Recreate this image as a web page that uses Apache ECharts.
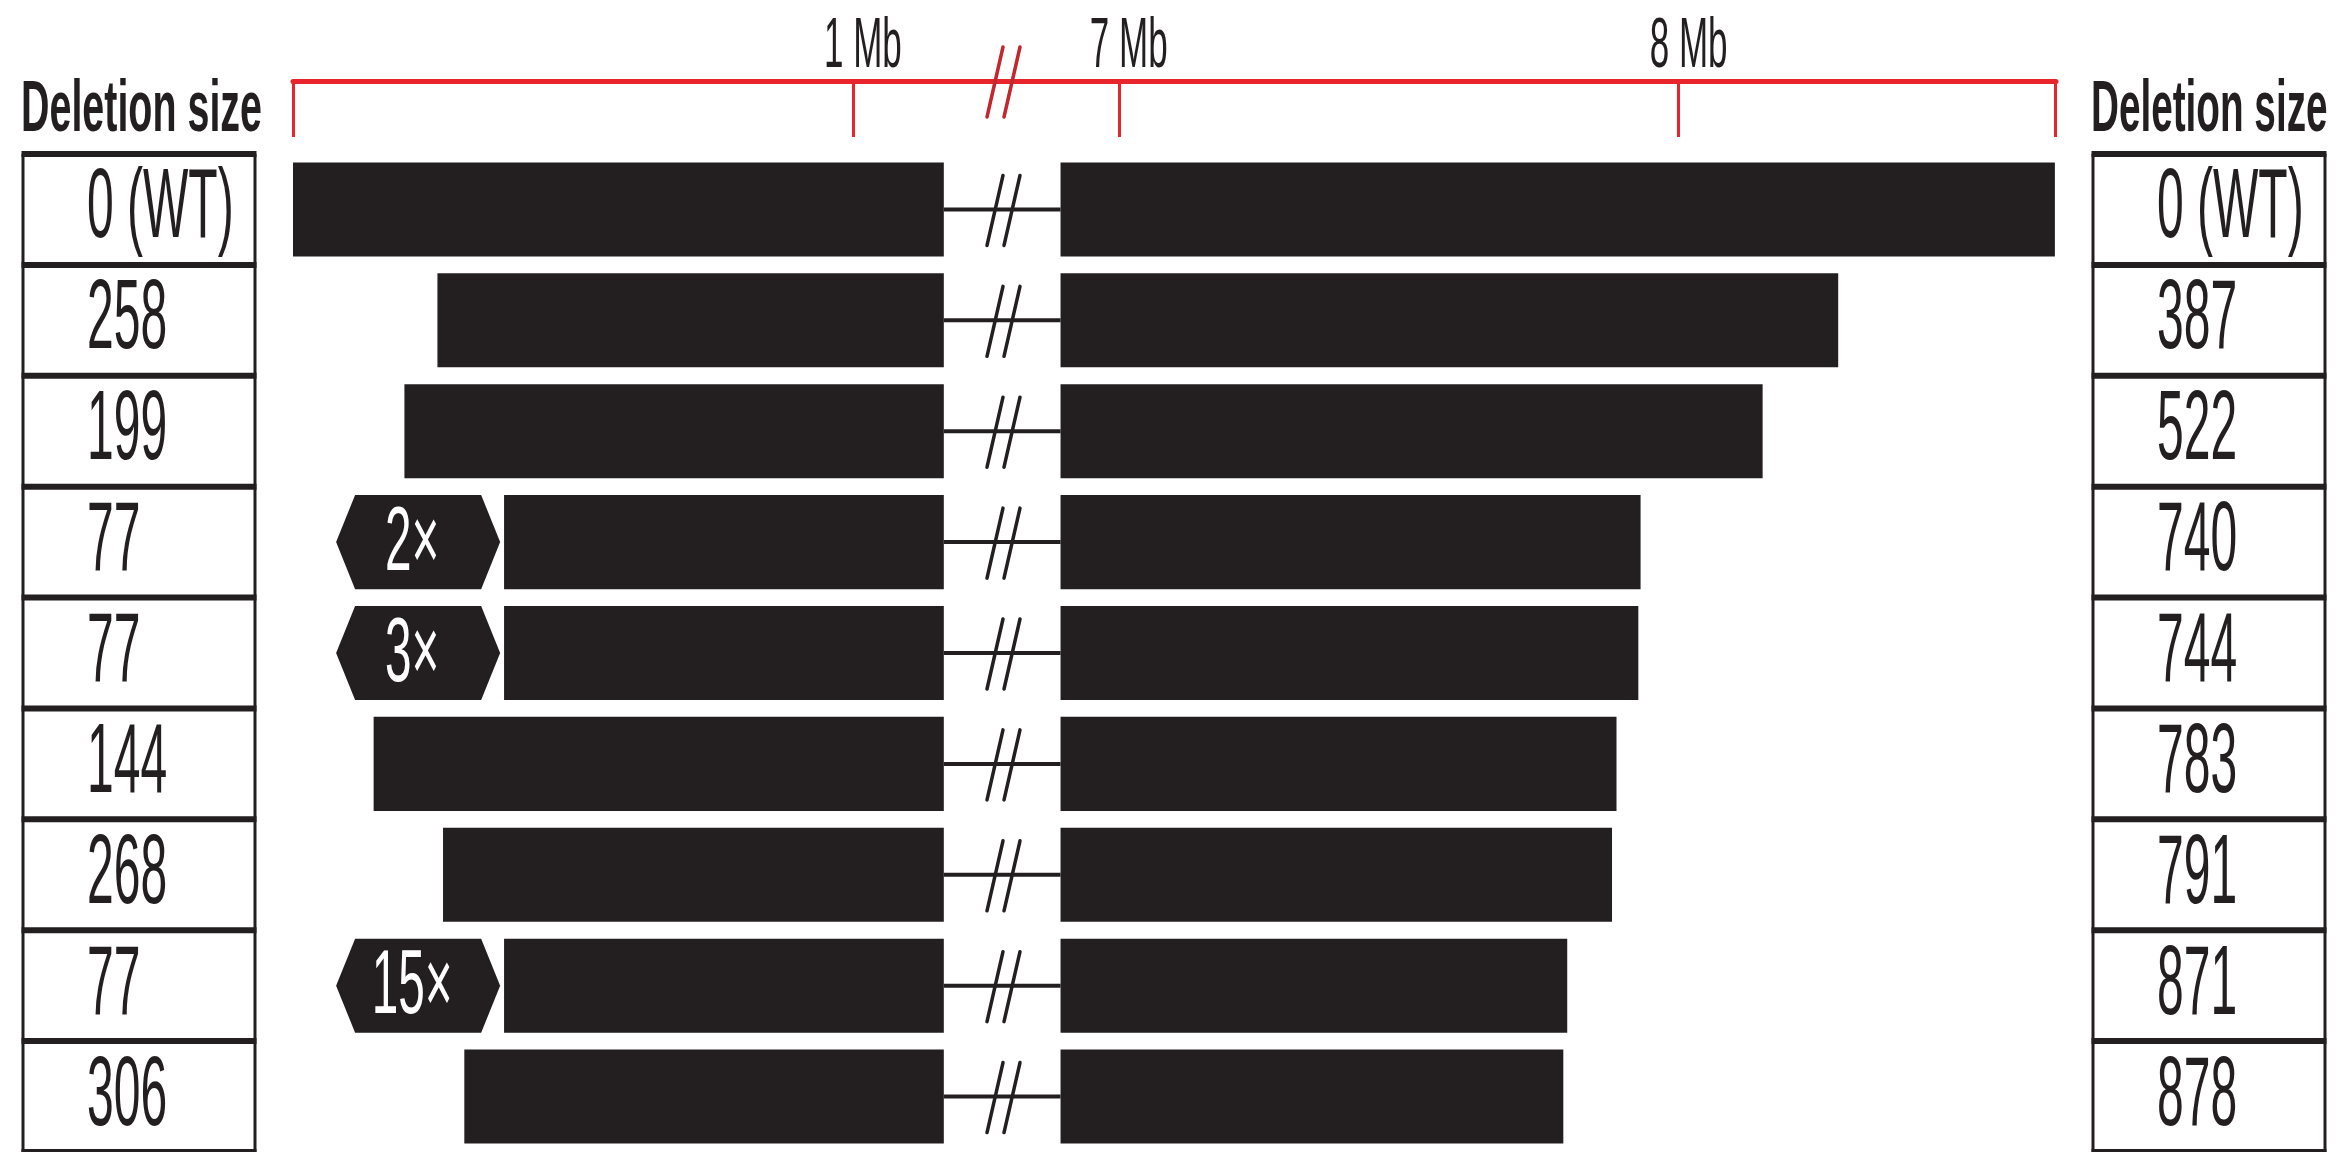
<!DOCTYPE html>
<html>
<head>
<meta charset="utf-8">
<title>Deletion sizes</title>
<script src="https://cdn.jsdelivr.net/npm/echarts@6/dist/echarts.min.js"></script>
<style>
  html, body { margin: 0; padding: 0; background: #ffffff; }
  #main { width: 2341px; height: 1152px; }
</style>
</head>
<body>
<div id="main"></div>
<script>
// ---- data -------------------------------------------------------------
// one row per allele, top to bottom
const ROW_IDS = ['wt', 'a1', 'a2', 'a3', 'a4', 'a5', 'a6', 'a7', 'a8'];
// deletion size (kb) removed from the left end of the region
const LEFT_DELETION_KB = [0, 258, 199, 77, 77, 144, 268, 77, 306];
// deletion size (kb) removed from the right end of the region
const RIGHT_DELETION_KB = [0, 387, 522, 740, 744, 783, 791, 871, 878];
// tandem repeat copy number at the left breakpoint (0 = none)
const REPEAT_COPIES = [0, 0, 0, 2, 3, 0, 0, 15, 0];
// wild-type region, in Mb, on each side of the axis break
const WT_LEFT_SEGMENT_MB = [0, 1.1625];
const WT_RIGHT_SEGMENT_MB = [6.896, 8.672];
// axis ticks (Mb)
const LEFT_TICKS_MB = [0, 1];
const RIGHT_TICKS_MB = [7, 8, 8.672];
const LEFT_LABEL_TICKS_MB = [1];
const RIGHT_LABEL_TICKS_MB = [7, 8];

// ---- drawing constants --------------------------------------------------
const FONT = '"Liberation Sans", Arial, Helvetica, sans-serif';
const INK = '#231f20';
const RED = '#e8252c';
const BREAK_RED = '#c1272d';
const AXIS_OFFSET = 73;          // axis line distance above the rows
const BAR_FILL = 0.848;          // bar height as a share of the row band
const REPEAT_BLOCK_MB = 0.293;   // drawn length of the repeat marker
const REPEAT_GAP_MB = 0.007;     // gap between repeat marker and bar
const HEX_INDENT = 19;
const NARROW = 0.49;             // horizontal condensing of the table text

const kb = v => v / 1000;
const cellText = v => (v === 0 ? '0 (WT)' : String(v));

// ---- derived series data ----------------------------------------------
const leftBarData = ROW_IDS.map((id, i) => {
  const cut = WT_LEFT_SEGMENT_MB[0] + kb(LEFT_DELETION_KB[i]);
  const start = REPEAT_COPIES[i] ? cut + REPEAT_BLOCK_MB + REPEAT_GAP_MB : cut;
  return [start, WT_LEFT_SEGMENT_MB[1], i];
});
const rightBarData = ROW_IDS.map((id, i) => [
  WT_RIGHT_SEGMENT_MB[0],
  WT_RIGHT_SEGMENT_MB[1] - kb(RIGHT_DELETION_KB[i]),
  i
]);
const repeatRows = ROW_IDS.map((id, i) => i).filter(i => REPEAT_COPIES[i] > 0);
const repeatData = repeatRows.map(i => {
  const s = WT_LEFT_SEGMENT_MB[0] + kb(LEFT_DELETION_KB[i]);
  return [s, s + REPEAT_BLOCK_MB, i];
});
const rowData = ROW_IDS.map((id, i) => [0, i]);

// ---- render helpers -----------------------------------------------------
function renderBar(params, api) {
  const a = api.coord([api.value(0), api.value(2)]);
  const b = api.coord([api.value(1), api.value(2)]);
  const h = api.size([0, 1])[1] * BAR_FILL;
  return {
    type: 'rect',
    shape: { x: a[0], y: a[1] - h / 2, width: b[0] - a[0], height: h },
    style: { fill: INK }
  };
}

function slash(xTop, cy, color) {
  return {
    type: 'line',
    shape: { x1: xTop, y1: cy - 34, x2: xTop - 16, y2: cy + 36 },
    style: { stroke: color, lineWidth: 3.5, lineCap: 'round' }
  };
}

function renderConnectorLeft(params, api) {
  const p = api.coord([api.value(1), api.value(2)]);
  const edge = params.coordSys.x + params.coordSys.width;
  return {
    type: 'group',
    children: [
      { type: 'line', shape: { x1: p[0], y1: p[1], x2: edge, y2: p[1] },
        style: { stroke: INK, lineWidth: 4 } },
      slash(edge - 1, p[1], INK),
      slash(edge + 16, p[1], INK)
    ]
  };
}

function renderConnectorRight(params, api) {
  const p = api.coord([api.value(0), api.value(2)]);
  const edge = params.coordSys.x;
  return {
    type: 'line',
    shape: { x1: edge, y1: p[1], x2: p[0], y2: p[1] },
    style: { stroke: INK, lineWidth: 4 }
  };
}

function renderRepeat(params, api) {
  const a = api.coord([api.value(0), api.value(2)]);
  const b = api.coord([api.value(1), api.value(2)]);
  const h = api.size([0, 1])[1] * BAR_FILL;
  const cy = a[1], top = cy - h / 2, bot = cy + h / 2;
  const copies = REPEAT_COPIES[repeatRows[params.dataIndex]];
  return {
    type: 'group',
    children: [
      { type: 'polygon',
        shape: { points: [
          [a[0], cy], [a[0] + HEX_INDENT, top], [b[0] - HEX_INDENT, top],
          [b[0], cy], [b[0] - HEX_INDENT, bot], [a[0] + HEX_INDENT, bot]
        ] },
        style: { fill: INK } },
      { type: 'text', x: (a[0] + b[0]) / 2 - 6, y: cy + 3, scaleX: 0.53,
        style: { text: copies + '\u00d7', fill: '#ffffff', fontFamily: FONT,
                 fontSize: 90, align: 'center', verticalAlign: 'middle' } }
    ]
  };
}

function cell(x0, x1, textX, top, bottom, cy, text, last) {
  const kids = [
    { type: 'line', shape: { x1: x0, y1: top, x2: x0, y2: bottom },
      style: { stroke: INK, lineWidth: 3 } },
    { type: 'line', shape: { x1: x1, y1: top, x2: x1, y2: bottom },
      style: { stroke: INK, lineWidth: 3 } },
    { type: 'line', shape: { x1: x0 - 1.5, y1: top, x2: x1 + 1.5, y2: top },
      style: { stroke: INK, lineWidth: 6 } },
    { type: 'text', x: textX, y: cy + 1, scaleX: NARROW,
      style: { text: text, fill: INK, fontFamily: FONT, fontSize: 98,
               align: 'left', verticalAlign: 'middle' } }
  ];
  if (last) {
    kids.push({ type: 'line', shape: { x1: x0 - 1.5, y1: bottom, x2: x1 + 1.5, y2: bottom },
                style: { stroke: INK, lineWidth: 6 } });
  }
  return kids;
}

function renderTable(params, api) {
  const i = api.value(1);
  const cy = api.coord([0, i])[1];
  const band = api.size([0, 1])[1];
  const top = cy - band / 2, bottom = cy + band / 2;
  const last = i === ROW_IDS.length - 1;
  return {
    type: 'group',
    children: [].concat(
      cell(23, 255, 87, top, bottom, cy, cellText(LEFT_DELETION_KB[i]), last),
      cell(2093, 2325, 2157, top, bottom, cy, cellText(RIGHT_DELETION_KB[i]), last)
    )
  };
}

function renderTickLabel(params, api) {
  const x = api.coord([api.value(0), 0])[0] + 10;
  const y = params.coordSys.y - AXIS_OFFSET - 33;
  return {
    type: 'text', x: x, y: y, scaleX: 0.5,
    style: { text: api.value(0) + ' Mb', fill: INK, fontFamily: FONT, fontSize: 70,
             align: 'center', verticalAlign: 'middle' }
  };
}

function renderAxisBreak(params, api) {
  const edge = params.coordSys.x + params.coordSys.width;
  const y = params.coordSys.y - AXIS_OFFSET;
  return {
    type: 'group',
    children: [slash(edge - 1, y, BREAK_RED), slash(edge + 16, y, BREAK_RED)]
  };
}

// ---- chart ----------------------------------------------------------------
const chart = echarts.init(document.getElementById('main'), null, { renderer: 'canvas' });

function xAxisFor(grid, min, max, ticks) {
  return {
    gridIndex: grid, type: 'value', min: min, max: max,
    position: 'top', offset: AXIS_OFFSET,
    axisLine: { show: true, onZero: false, lineStyle: { color: RED, width: 5 } },
    axisTick: { show: true, inside: true, length: 56, customValues: ticks,
                lineStyle: { color: RED, width: 3 } },
    axisLabel: { show: false },
    splitLine: { show: false }
  };
}

const yAxisFor = grid => ({
  gridIndex: grid, type: 'category', data: ROW_IDS, inverse: true, show: false
});

chart.setOption({
  animation: false,
  backgroundColor: '#ffffff',
  grid: [
    { left: 293, top: 154, width: 711, height: 998 },
    { left: 1004, top: 154, width: 1052, height: 998 }
  ],
  xAxis: [
    xAxisFor(0, 0, 1.27, LEFT_TICKS_MB),
    xAxisFor(1, 6.795, 8.674, RIGHT_TICKS_MB)
  ],
  yAxis: [yAxisFor(0), yAxisFor(1)],
  graphic: [
    { type: 'text', x: 21, y: 111, scaleX: 0.54,
      style: { text: 'Deletion size', fill: INK, fontFamily: FONT, fontSize: 73,
               fontWeight: 'bold', align: 'left', verticalAlign: 'middle' } },
    { type: 'text', x: 2091, y: 111, scaleX: 0.53,
      style: { text: 'Deletion size', fill: INK, fontFamily: FONT, fontSize: 73,
               fontWeight: 'bold', align: 'left', verticalAlign: 'middle' } }
  ],
  series: [
    { type: 'custom', name: 'left segment', xAxisIndex: 0, yAxisIndex: 0,
      data: leftBarData, encode: { x: [0, 1], y: 2 }, renderItem: renderBar },
    { type: 'custom', name: 'right segment', xAxisIndex: 1, yAxisIndex: 1,
      data: rightBarData, encode: { x: [0, 1], y: 2 }, renderItem: renderBar },
    { type: 'custom', name: 'link left', xAxisIndex: 0, yAxisIndex: 0,
      data: leftBarData, encode: { x: [0, 1], y: 2 }, renderItem: renderConnectorLeft },
    { type: 'custom', name: 'link right', xAxisIndex: 1, yAxisIndex: 1,
      data: rightBarData, encode: { x: [0, 1], y: 2 }, renderItem: renderConnectorRight },
    { type: 'custom', name: 'repeat', xAxisIndex: 0, yAxisIndex: 0,
      data: repeatData, encode: { x: [0, 1], y: 2 }, renderItem: renderRepeat },
    { type: 'custom', name: 'table', xAxisIndex: 0, yAxisIndex: 0,
      data: rowData, encode: { x: 0, y: 1 }, renderItem: renderTable },
    { type: 'custom', name: 'ticks left', xAxisIndex: 0, yAxisIndex: 0,
      data: LEFT_LABEL_TICKS_MB.map(v => [v, 0]), encode: { x: 0, y: 1 },
      renderItem: renderTickLabel },
    { type: 'custom', name: 'ticks right', xAxisIndex: 1, yAxisIndex: 1,
      data: RIGHT_LABEL_TICKS_MB.map(v => [v, 0]), encode: { x: 0, y: 1 },
      renderItem: renderTickLabel },
    { type: 'custom', name: 'axis break', xAxisIndex: 0, yAxisIndex: 0,
      data: [[0, 0]], encode: { x: 0, y: 1 }, renderItem: renderAxisBreak }
  ]
});
</script>
</body>
</html>
